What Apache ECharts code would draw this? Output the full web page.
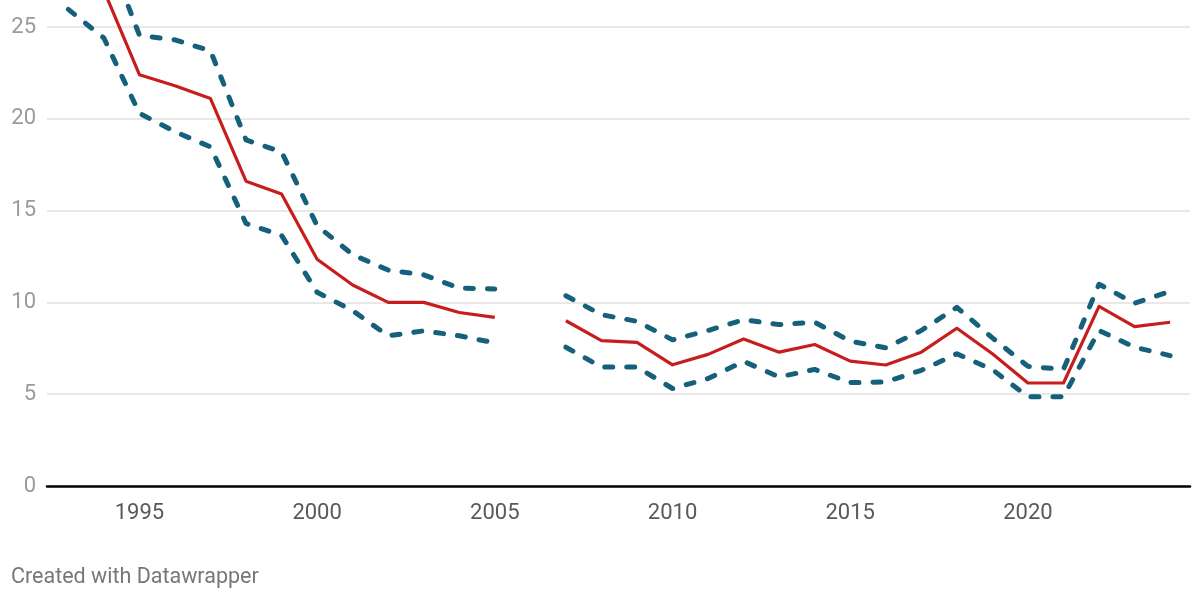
<!DOCTYPE html>
<html>
<head>
<meta charset="utf-8">
<script src="https://cdn.jsdelivr.net/npm/echarts@6/dist/echarts.min.js"></script>
<style>
html,body{margin:0;padding:0;background:#fff;}
#chart{width:1200px;height:600px;}
</style>
</head>
<body>
<div id="chart"></div>
<script>
const years = [1993,1994,1995,1996,1997,1998,1999,2000,2001,2002,2003,2004,2005,2006,2007,2008,2009,2010,2011,2012,2013,2014,2015,2016,2017,2018,2019,2020,2021,2022,2023,2024];
const estimate = [28.3,27.0,22.4,21.8,21.1,16.6,15.9,12.35,10.95,10.0,10.0,9.45,9.18,null,9.0,7.92,7.82,6.6,7.17,8.01,7.29,7.71,6.8,6.59,7.29,8.59,7.2,5.61,5.61,9.78,8.68,8.92];
const upper = [30.8,29.6,24.55,24.3,23.7,18.85,18.2,14.18,12.6,11.76,11.5,10.78,10.73,null,10.36,9.33,8.97,7.96,8.47,9.06,8.79,8.92,7.89,7.53,8.47,9.73,8.07,6.52,6.35,10.99,9.95,10.6];
const lower = [25.96,24.4,20.3,19.3,18.47,14.3,13.65,10.55,9.55,8.18,8.45,8.18,7.8,null,7.56,6.48,6.48,5.31,5.85,6.79,5.94,6.35,5.63,5.67,6.3,7.2,6.34,4.86,4.86,8.47,7.56,7.1];
const xTicks = [1995,2000,2005,2010,2015,2020];
const yTicks = [0,5,10,15,20,25,30];
const footer = 'Created with Datawrapper';

const pairs = arr => years.map((y,i) => [y, arr[i]]);
const chart = echarts.init(document.getElementById('chart'), null, {renderer:'canvas'});
const dashStyle = {color:'#15607a', width:5, type:[8,14], cap:'round', join:'round'};
chart.setOption({
  animation:false,
  backgroundColor:'#ffffff',
  grid:{left:47, right:10, top:-64.8, bottom:114, outerBoundsMode:'none', containLabel:false},
  xAxis:{
    type:'value', min:1992.4, max:2024.56,
    axisLine:{show:true, lineStyle:{color:'#000', width:2.5}},
    axisTick:{show:false},
    splitLine:{show:false},
    axisLabel:{customValues:xTicks, color:'#595959', fontSize:22, fontFamily:'Roboto', margin:16, formatter:v=>String(v)}
  },
  yAxis:{
    type:'value', min:yTicks[0], max:yTicks[yTicks.length-1], interval:5,
    axisLine:{show:false}, axisTick:{show:false},
    splitLine:{show:true, lineStyle:{color:'#e1e1e1', width:1.5}},
    axisLabel:{color:'#9a9a9a', fontSize:22, fontFamily:'Roboto', margin:11}
  },
  series:[
    {type:'line', data:pairs(upper), symbol:'none', connectNulls:false, lineStyle:dashStyle, z:2},
    {type:'line', data:pairs(lower), symbol:'none', connectNulls:false, lineStyle:dashStyle, z:2},
    {type:'line', data:pairs(estimate), symbol:'none', connectNulls:false, lineStyle:{color:'#c71e1d', width:3.2, join:'round'}, z:3}
  ],
  graphic:[{type:'text', left:11, top:567, style:{text:footer, fill:'#777777', font:'21.5px Roboto'}}]
});
</script>
</body>
</html>
